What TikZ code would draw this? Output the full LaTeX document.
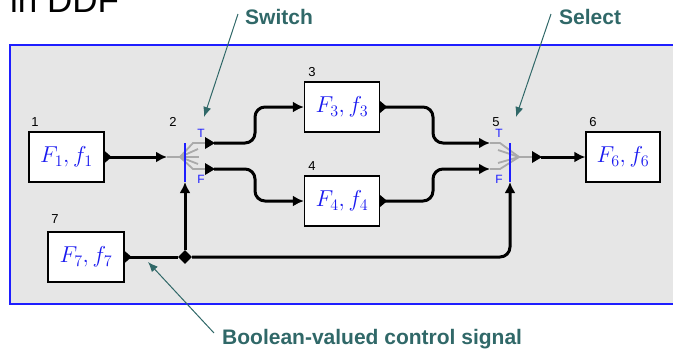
\RequirePackage{fix-cm}
\documentclass[tikz,border=0pt]{standalone}
\usepackage{fontspec}
\setmainfont{Liberation Sans}
\usetikzlibrary{arrows.meta,calc,shapes.geometric}
\definecolor{panel}{RGB}{230,230,230}
\definecolor{teal2}{RGB}{48,104,104}
\definecolor{fan}{RGB}{170,170,170}
\definecolor{mblue}{RGB}{25,25,240}
\definecolor{pblue}{RGB}{30,30,255}
\begin{document}
\begin{tikzpicture}[x=1pt,y=-1pt,
  box/.style={draw=black,line width=1.3pt,fill=white,minimum width=75pt,minimum height=50pt,inner sep=0pt,
    font=\fontsize{23}{25}\selectfont,text=mblue},
  num/.style={font=\fontsize{13}{15}\selectfont,inner sep=0pt},
  tf/.style={font=\fontsize{12}{14}\selectfont,text=pblue,inner sep=0pt},
  conn/.style={line width=3pt,black},
  arr/.style={conn,-{Latex[length=11pt,width=11pt]}},
  rays/.style={line width=1.8pt,fan},
  ctrl/.style={line width=1.5pt,pblue},
  note/.style={font=\fontsize{21}{24}\selectfont\bfseries,text=teal2,inner sep=0pt,anchor=base west},
  noteline/.style={teal2,line width=1pt,-{Latex[length=10pt,width=8pt]}},
  pt/.style={fill=black}
]
\useasboundingbox (0,0) rectangle (673,349);
\clip (0,0) rectangle (673,349);

% title fragment
\node[anchor=base west,font=\fontsize{35}{40}\selectfont,inner sep=0pt] (title) at (10,12) {in DDF};

% panel
\filldraw[fill=panel,draw=pblue,line width=1.5pt] (10,45) rectangle (700,304);

% boxes
\node[box] (b1) at (66.5,157) {$F_1, f_1$};
\node[box] (b3) at (342,107) {$F_3, f_3$};
\node[box] (b4) at (342,201) {$F_4, f_4$};
\node[box,minimum width=74pt] (b6) at (623,157) {$F_6, f_6$};
\node[box,minimum width=76pt] (b7) at (86,257) {$F_7, f_7$};

% numbers
\node[num] (n1) at (35,122) {1};
\node[num] (n2) at (173,122) {2};
\node[num] (n3) at (312,72) {3};
\node[num] (n4) at (312,166) {4};
\node[num] (n5) at (496,122) {5};
\node[num] (n6) at (593,122) {6};
\node[num] (n7) at (55,219) {7};

% switch / select reference points
\coordinate (swin) at (167,157);
\coordinate (swc) at (185,182);
\coordinate (swT) at (214,143);
\coordinate (swF) at (214,169);
\coordinate (slT) at (490,143);
\coordinate (slF) at (490,169);
\coordinate (slc) at (510,182);
\coordinate (slo) at (541,157);

% switch fan
\draw[rays] (swin) -- (181,157);
\draw[rays] (180,157) -- (193,143) -- (207,143);
\draw[rays] (180,157) -- (193,169) -- (207,169);
\draw[rays] (180,157) -- (198,149);
\draw[rays] (180,157) -- (199,157);
\draw[rays] (180,157) -- (198,164);
\draw[ctrl] (185,143) -- (swc);
\node[tf] (sT) at (201,133) {T};
\node[tf] (sF) at (201,179) {F};

% select fan
\draw[rays] (slT) -- (500,143) -- (519,157);
\draw[rays] (slF) -- (500,169) -- (519,157);
\draw[rays] (498,150) -- (519,157);
\draw[rays] (498,163) -- (519,157);
\draw[rays] (519,157) -- (533,157);
\draw[ctrl] (510,143) -- (slc);
\node[tf] (lT) at (499,133) {T};
\node[tf] (lF) at (499,179) {F};

% connectors
\draw[arr] (b1.east) -- (swin);
\draw[arr,rounded corners=10pt] (swT) -- (255,143) -- (255,107) -- (b3.west);
\draw[arr,rounded corners=10pt] (swF) -- (255,169) -- (255,201) -- (b4.west);
\draw[arr,rounded corners=10pt] (b3.east) -- (433,107) -- (433,143) -- (slT);
\draw[arr,rounded corners=10pt] (b4.east) -- (433,201) -- (433,169) -- (slF);
\draw[arr] (slo) -- (b6.west);

% control signal
\node[diamond,fill=black,inner sep=0pt,minimum width=14pt,minimum height=14pt] (dm) at (185,257) {};
\draw[conn] (b7.east) -- (dm);
\draw[arr] (dm) -- (swc);
\draw[arr,rounded corners=10pt] (dm) -- (510,257) -- (slc);

% output port markers
\fill[pt] ($(b1.east)+(0,-6)$) -- ++(7,6) -- ++(-7,6) -- cycle;
\fill[pt] ($(b3.east)+(0,-6)$) -- ++(7,6) -- ++(-7,6) -- cycle;
\fill[pt] ($(b4.east)+(0,-6)$) -- ++(7,6) -- ++(-7,6) -- cycle;
\fill[pt] ($(b7.east)+(0,-6)$) -- ++(7,6) -- ++(-7,6) -- cycle;
\fill[pt] (205,137) -- (215,143) -- (205,149) -- cycle;
\fill[pt] (205,163) -- (215,169) -- (205,175) -- cycle;
\fill[pt] (532,151) -- (542,157) -- (532,163) -- cycle;

% annotations
\node[note] (lsw) at (245,24) {Switch};
\node[note] (lsl) at (559,24) {Select};
\node[note] (lbo) at (222,344) {Boolean-valued control signal};
\coordinate (tsw) at (204,117);
\coordinate (tsl) at (516,117);
\coordinate (tbo) at (148,262);
\draw[noteline] ($(lsw.base west)+(-7,-10)$) -- (tsw);
\draw[noteline] ($(lsl.base west)+(-8,-10)$) -- (tsl);
\draw[noteline] ($(lbo.base west)+(-8,-11)$) -- (tbo);
\end{tikzpicture}
\end{document}
